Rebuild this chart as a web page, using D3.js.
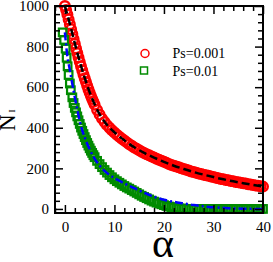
<!DOCTYPE html>
<html><head><meta charset="utf-8">
<script src="https://cdn.jsdelivr.net/npm/d3@7"></script>
<style>body{margin:0;background:#fff}svg{display:block}text{font-family:"Liberation Serif","Times New Roman",serif;fill:#000}</style>
</head><body>
<svg id="c" width="273" height="262"></svg>
<script>
// Ps = 0.001 (red circles)
const redAlpha = [0,0.25,0.5,0.75,1,1.25,1.5,1.75,2,2.25,2.5,2.75,3,3.25,3.5,3.75,4,4.25,4.5,4.75,5,5.25,5.5,5.75,6,
  6.5,7,7.5,8,8.5,9,9.5,10,10.5,11,11.5,12,12.5,13,13.5,14,14.5,15,15.5,16,16.5,17,17.5,18,18.5,19,19.5,20,
  20.5,21,21.5,22,22.5,23,23.5,24,24.5,25,25.5,26,26.5,27,27.5,28,28.5,29,29.5,30,30.5,31,31.5,32,32.5,33,33.5,
  34,34.5,35,35.5,36,36.5,37,37.5,38,38.5,39,39.5,40];
const redN = [1000,980,958,934,910,886,862,838,814,791,768,746,724,703,683,663,644,625,607,590,573,557,542,528,514,
  488,465,445,428,413,400,388,377,366,356,346,337,328,319,311,303,296,289,282,276,270,264,258,253,247,242,237,232,
  227,222,217,213,209,205,201,197,193,189,185,182,178,175,172,169,166,163,160,157,154,151,148,146,143,141,138,
  136,133,131,129,127,125,122,120,118,116,114,112,110];
// fit for Ps = 0.001 (black dashed)
const redFitAlpha = [0,1,2,3,4,5,6,7,8,9,10,12,14,16,18,20,22,24,26,28,30,32,34,36,38,40];
const redFitN = [1000,912,816,726,646,575,516,467,430,401,378,338,304,276,253,232,213,197,182,169,157,146,136,127,118,110];
// Ps = 0.01 (green squares)
const greenAlpha = [-0.45,-0.15,0.15,0.35,0.55,0.75,1,1.2,1.5,1.75,2,2.25,2.5,2.75,3,3.25,3.5,3.75,4,4.25,4.5,4.75,5,5.25,5.5,5.75,6,
  6.5,7,7.5,8,8.5,9,9.5,10,10.5,11,11.5,12,12.5,13,13.5,14,14.5,15,15.5,16,16.5,17,17.5,18,18.5,19,19.5,20,
  20.5,21,21.5,22,22.5,23,23.5,24,24.5,25,25.5,26,26.5,27,27.5,28,28.5,29,29.5,30,30.5,31,31.5,32,32.5,33,33.5,
  34,34.5,35,35.5,36,36.5,37,37.5,38,38.5,39,39.5,40];
const greenN = [870,833,790,745,703,660,618,585,550,522,498,476,456,437,419,401,385,369,354,339,325,312,299,287,276,265,255,
  237,221,206,192,179,167,156,146,137,129,121,113,106,100,93,86,79,72,65,59,53,47,41,36,31,27,23,19,
  15,12,9,7,5,3,2,1,0,0,0,0,0,0,0,0,0,0,0,0,0,0,0,0,0,0,0,
  0,0,0,0,0,0,0,0,0,0,0,0,0];
// fit for Ps = 0.01 (blue dash-dot)
const blueFitAlpha = [0,0.5,1,1.5,2,2.5,3,3.5,4,4.5,5,6,7,8,9,10,11,12,13,14,15,16,17,18,20,22,24,26,28,30,33,36,40];
const blueFitN = [870,752,685,615,550,490,432,387,352,321,294,248,214,188,168,152,139,126,114,102,91,80,69,60,45,35,27,19,13,8,4,1,0];

const xMajor = [0,10,20,30,40];
const yMajor = [0,200,400,600,800,1000];
const legendLabels = ["Ps=0.001","Ps=0.01"];

const svg = d3.select("#c");
const x = d3.scaleLinear().domain([-2,40]).range([55,263]);
const y = d3.scaleLinear().domain([-20,1000]).range([213,6]);

const xMinor = d3.range(-2,41,2).filter(v => v % 10 !== 0);
const yMinor = d3.range(0,1001,40).filter(v => v % 200 !== 0);

// markers
const redPts = redAlpha.map((a,i)=>[a,redN[i]]);
const greenPts = greenAlpha.map((a,i)=>[a,greenN[i]]);
svg.append("g").selectAll("circle").data(redPts).join("circle")
  .attr("cx",d=>x(d[0])).attr("cy",d=>y(d[1])).attr("r",4.8)
  .attr("fill","none").attr("stroke","#ff0000").attr("stroke-width",2.4);
svg.append("g").selectAll("rect").data(greenPts).join("rect")
  .attr("x",d=>x(d[0])-3.8).attr("y",d=>y(d[1])-3.8).attr("width",7.6).attr("height",7.6)
  .attr("fill","none").attr("stroke","#008b00").attr("stroke-width",2.2);

const line = d3.line().x(d=>x(d[0])).y(d=>y(d[1])).curve(d3.curveMonotoneX);
svg.append("path").datum(redFitAlpha.map((a,i)=>[a,redFitN[i]])).attr("d",line)
  .attr("fill","none").attr("stroke","#000").attr("stroke-width",2.5).attr("stroke-dasharray","8,4");
svg.append("path").datum(blueFitAlpha.map((a,i)=>[a,blueFitN[i]])).attr("d",line)
  .attr("fill","none").attr("stroke","#0000ff").attr("stroke-width",2.5).attr("stroke-dasharray","8,3,2,3");

// axes
function ax(gen, tr, vals, size, labels){
  const g = svg.append("g").attr("transform",tr)
    .call(gen.tickValues(vals).tickSize(size).tickSizeOuter(0).tickPadding(labels?7:0)
      .tickFormat(labels? d3.format("d") : ()=>""));
  g.select(".domain").remove();
  g.selectAll(".tick line").attr("stroke","#000").attr("stroke-width",1.5);
  g.selectAll("text").style("font-size","15px").style("font-family",'"Liberation Serif",serif');
  return g;
}
ax(d3.axisBottom(x),"translate(0,213)",xMajor,-8,true).selectAll("text").attr("dy","0.71em").attr("y",8);
ax(d3.axisBottom(x),"translate(0,213)",xMinor,-5,false);
ax(d3.axisTop(x),"translate(0,6)",xMajor,-8,false);
ax(d3.axisTop(x),"translate(0,6)",xMinor,-5,false);
ax(d3.axisLeft(y),"translate(55,0)",yMajor,-8,true).selectAll("text").attr("x",-6);
ax(d3.axisLeft(y),"translate(55,0)",yMinor,-5,false);
ax(d3.axisRight(y),"translate(263,0)",yMajor,-8,false);
ax(d3.axisRight(y),"translate(263,0)",yMinor,-5,false);

svg.append("rect").attr("x",55).attr("y",6).attr("width",208).attr("height",207)
  .attr("fill","none").attr("stroke","#000").attr("stroke-width",2);

// axis titles
const yt = svg.append("text").attr("transform","translate(15,131) rotate(-90)");
yt.append("tspan").text("N").style("font-size","23px");
yt.append("tspan").text("I").style("font-size","9px").attr("dx",2);
svg.append("text").attr("x",163).attr("y",257).attr("text-anchor","middle")
  .style("font-size","42px").text("α");

// legend
const leg = svg.append("g");
leg.append("circle").attr("cx",145).attr("cy",53.5).attr("r",4)
  .attr("fill","none").attr("stroke","#ff0000").attr("stroke-width",1.5);
leg.append("rect").attr("x",140.5).attr("y",67).attr("width",7).attr("height",7)
  .attr("fill","none").attr("stroke","#008b00").attr("stroke-width",1.5);
leg.selectAll("text").data(legendLabels).join("text")
  .attr("x",172.5).attr("y",(d,i)=>58+i*17.5).style("font-size","14px").text(d=>d);
</script>
</body></html>
